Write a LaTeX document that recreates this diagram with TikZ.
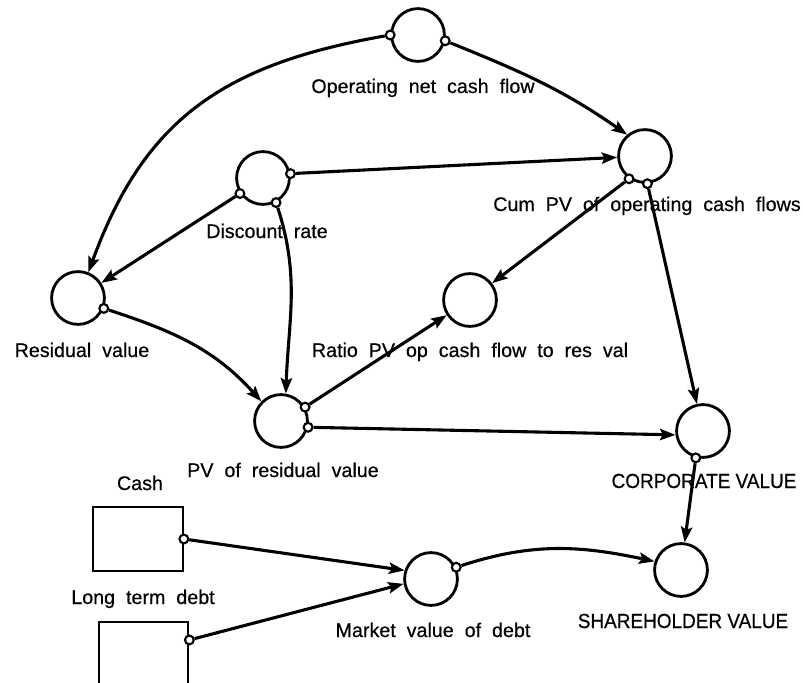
\documentclass[tikz,border=0pt]{standalone}
\usepackage{fontspec}
\setmainfont{Liberation Sans}[WordSpace=2, FakeBold=0.5]
\newfontfamily\capsfont{Liberation Sans}[FakeStretch=0.93, FakeBold=0.5]
\usepackage{tikz}
\usetikzlibrary{arrows.meta}

\begin{document}
\begin{tikzpicture}[x=0.025cm, y=-0.025cm,
        aux/.style={circle, draw, line width=2pt, minimum size=1.32cm, inner sep=0pt},
        stock/.style={rectangle, draw, line width=1.5pt, minimum width=2.24cm, minimum height=1.6cm, inner sep=0pt},
        port/.style={circle, draw, fill=white, line width=1.5pt, minimum size=0.22cm, inner sep=0pt},
        lbl/.style={anchor=base, inner sep=0pt, font=\fontsize{14}{16}\selectfont},
        caps/.style={anchor=base, inner sep=0pt, font=\capsfont\fontsize{14.5}{16}\selectfont},
        arrow/.style={->, >={Stealth[length=11pt, width=8pt, inset=2pt]}, line width=2.2pt}]

    \path[use as bounding box, fill=white] (0,0) rectangle (803,683);

    % Variables
    \node[aux] (onc) at (418,35) {};
    \node[aux] (disc) at (263,178) {};
    \node[aux] (cum) at (645,156) {};
    \node[aux] (res) at (78,298) {};
    \node[aux] (ratio) at (470,300) {};
    \node[aux] (pvr) at (281,421) {};
    \node[aux] (corp) at (703,431) {};
    \node[aux] (mvd) at (431,579) {};
    \node[aux] (sh) at (681,570) {};

    % Stocks
    \node[stock] (cash) at (138,539) {};
    \node[stock] (ltd) at (143.5,654) {};

    % Labels
    \node[lbl] (onc-l) at (423,93) {Operating net cash flow};
    \node[lbl] (disc-l) at (267,238) {Discount rate};
    \node[lbl] (cum-l) at (647,211) {Cum PV of operating cash flows};
    \node[lbl] (res-l) at (82,357) {Residual value};
    \node[lbl] (ratio-l) at (470,357) {Ratio PV op cash flow to res val};
    \node[lbl] (pvr-l) at (283,477) {PV of residual value};
    \node[caps] (corp-l) at (704,488) {CORPORATE VALUE};
    \node[lbl] (mvd-l) at (433,637) {Market value of debt};
    \node[caps] (sh-l) at (683,628) {SHAREHOLDER VALUE};
    \node[lbl] (cash-l) at (140,490) {Cash};
    \node[lbl] (ltd-l) at (143,604) {Long term debt};

    % Connector origins
    \node[port] (onc-o1) at (onc.180) {};
    \node[port] (onc-o2) at (onc.-12) {};
    \node[port] (disc-o1) at (disc.9) {};
    \node[port] (disc-o2) at (disc.214) {};
    \node[port] (disc-o3) at (disc.-62) {};
    \node[port] (res-o) at (res.-22) {};
    \node[port] (pvr-o1) at (pvr.30) {};
    \node[port] (pvr-o2) at (pvr.-13) {};
    \node[port] (cum-o1) at (cum.235) {};
    \node[port] (cum-o2) at (cum.-85) {};
    \node[port] (corp-o) at (corp.-105) {};
    \node[port] (cash-o) at (cash.east) {};
    \node[port] (ltd-o) at (ltd.17) {};
    \node[port] (mvd-o) at (mvd.25) {};

    % Connectors
    \draw[arrow] (onc-o1) to[out=190, in=70, looseness=1.1] (res.68);
    \draw[arrow] (onc-o2) to[out=-22, in=145] (cum.130);
    \draw[arrow] (disc-o1) -- (cum);
    \draw[arrow] (disc-o2) -- (res);
    \draw[arrow] (disc-o3) to[out=-72, in=88] (pvr.80);
    \draw[arrow] (res-o) to[out=-18, in=132] (pvr.135);
    \draw[arrow] (pvr-o1) -- (ratio);
    \draw[arrow] (cum-o1) -- (ratio);
    \draw[arrow] (cum-o2) -- (corp);
    \draw[arrow] (pvr-o2) -- (corp.188);
    \draw[arrow] (corp-o) -- (sh);
    \draw[arrow] (cash-o) -- (mvd.162);
    \draw[arrow] (ltd-o) -- (mvd.190);
    \draw[arrow] (mvd-o) to[out=18, in=168] (sh.162);

\end{tikzpicture}
\end{document}
